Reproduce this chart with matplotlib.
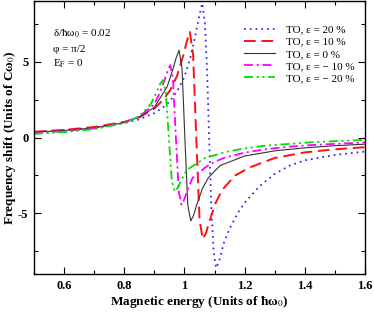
import matplotlib
matplotlib.use("Agg")
import matplotlib.pyplot as plt
from matplotlib.ticker import MultipleLocator, FixedLocator

plt.rcParams['font.family'] = ['Liberation Serif', 'DejaVu Serif']
plt.rcParams['mathtext.fontset'] = 'stix'

# curves: (magnetic energy, frequency shift)
x_p20 = [0.50, 0.60, 0.70, 0.80, 0.85, 0.90, 0.93, 0.95, 0.98, 1.00, 1.02, 1.035, 1.048, 1.059,
         1.068, 1.075, 1.082, 1.089, 1.097, 1.105, 1.115, 1.13, 1.15, 1.18, 1.20, 1.25, 1.30,
         1.35, 1.40, 1.50, 1.60]
y_p20 = [0.36, 0.48, 0.64, 0.95, 1.20, 1.60, 2.00, 2.35, 3.20, 4.00, 5.30, 6.60, 7.90, 8.85,
         7.50, 4.50, 0.00, -4.50, -7.50, -8.60, -8.20, -7.00, -6.00, -4.90, -4.30, -3.20, -2.40,
         -1.85, -1.50, -1.15, -0.93]

x_p10 = [0.50, 0.60, 0.70, 0.80, 0.85, 0.90, 0.93, 0.9535, 0.975, 0.9965, 1.0073, 1.018, 1.0288,
         1.0395, 1.0503, 1.061, 1.0718, 1.0825, 1.104, 1.1255, 1.1685, 1.22, 1.30, 1.40, 1.50, 1.60]
y_p10 = [0.38, 0.50, 0.69, 1.03, 1.33, 1.91, 2.50, 3.15, 4.05, 5.44, 6.30, 6.96, 5.44,
         -0.12, -5.48, -6.70, -6.30, -5.55, -4.30, -3.45, -2.50, -1.95, -1.35, -0.98, -0.78, -0.64]

x_0 = [0.50, 0.60, 0.70, 0.80, 0.85, 0.90, 0.943, 0.962, 0.972, 0.982, 0.992, 1.0015, 1.011,
       1.021, 1.031, 1.0405, 1.06, 1.0795, 1.1185, 1.20, 1.30, 1.40, 1.50, 1.60]
y_0 = [0.35, 0.46, 0.64, 0.99, 1.34, 1.99, 3.37, 4.52, 5.23, 5.75, 4.55, -0.08, -4.45,
       -5.50, -5.10, -4.45, -3.35, -2.65, -1.85, -1.22, -0.88, -0.68, -0.54, -0.44]

x_m10 = [0.50, 0.60, 0.70, 0.80, 0.85, 0.90, 0.916, 0.9345, 0.944, 0.953, 0.962, 0.9715, 0.981,
         0.99, 0.999, 1.0085, 1.027, 1.045, 1.067, 1.10, 1.133, 1.20, 1.267, 1.35, 1.42, 1.50, 1.60]
y_m10 = [0.30, 0.42, 0.60, 0.98, 1.38, 2.20, 2.86, 3.82, 4.40, 4.77, 3.82, 0.00, -3.55,
         -4.44, -4.10, -3.55, -2.66, -2.40, -2.00, -1.60, -1.33, -1.00, -0.78, -0.60, -0.50, -0.42, -0.33]

x_m20 = [0.50, 0.60, 0.70, 0.80, 0.85, 0.888, 0.908, 0.918, 0.928, 0.938, 0.948, 0.958, 0.968,
         0.978, 0.988, 1.008, 1.033, 1.067, 1.133, 1.20, 1.267, 1.35, 1.42, 1.50, 1.60]
y_m20 = [0.24, 0.36, 0.55, 0.95, 1.40, 2.20, 3.00, 3.50, 3.78, 3.00, 0.00, -2.86, -3.57,
         -3.30, -2.86, -2.14, -1.81, -1.37, -0.97, -0.72, -0.54, -0.42, -0.32, -0.24, -0.16]

labels = ["TO, ε = 20 %", "TO, ε = 10 %", "TO, ε = 0 %", "TO, ε = − 10 %", "TO, ε = − 20 %"]

fig = plt.figure(figsize=(3.74, 3.14), dpi=100)
ax = fig.add_axes([34/374, 1 - 274/314, 331/374, 273/314])

ax.plot(x_p20, y_p20, color='#3030ff', lw=1.3, ls=(0, (1, 2.2)), label=labels[0])
ax.plot(x_p10, y_p10, color='#ff1010', lw=1.4, ls=(0, (6, 3)), label=labels[1])
ax.plot(x_0, y_0, color='#333333', lw=0.8, ls='-', label=labels[2])
ax.plot(x_m10, y_m10, color='#ff00ff', lw=1.3, ls=(0, (5, 2, 1.2, 2)), label=labels[3])
ax.plot(x_m20, y_m20, color='#00dd00', lw=1.3, ls=(0, (5, 2, 1.2, 2, 1.2, 2)), label=labels[4])

ax.set_xlim(0.5, 1.6)
ax.set_ylim(-9, 9)
ax.xaxis.set_major_locator(FixedLocator([0.6, 0.8, 1.0, 1.2, 1.4, 1.6]))
ax.set_xticklabels(["0.6", "0.8", "1", "1.2", "1.4", "1.6"])
ax.xaxis.set_minor_locator(MultipleLocator(0.1))
ax.yaxis.set_major_locator(FixedLocator([-5, 0, 5]))
ax.set_yticklabels(["-5", "0", "5"])
ax.yaxis.set_minor_locator(MultipleLocator(2.5))
ax.tick_params(which='both', direction='in', top=True, right=True, labelsize=9, width=0.8)
ax.tick_params(which='major', length=5, pad=4)
ax.tick_params(which='minor', length=3)
for lab in ax.get_xticklabels() + ax.get_yticklabels():
    lab.set_fontweight('bold')
for s in ax.spines.values():
    s.set_linewidth(1.0)

ax.set_xlabel(r"Magnetic energy (Units of ħω$_0$)", fontsize=9.5, fontweight='bold', labelpad=2)
ax.set_ylabel(r"Frequency shift (Units of Cω$_0$)", fontsize=9.5, fontweight='bold', labelpad=0)

ax.text(0.058, 0.87, r"δ/ħω$_0$ = 0.02", transform=ax.transAxes, fontsize=8)
ax.text(0.058, 0.815, "φ = π/2", transform=ax.transAxes, fontsize=8)
ax.text(0.058, 0.76, r"E$_\mathrm{F}$ = 0", transform=ax.transAxes, fontsize=8)

ax.legend(loc='upper right', bbox_to_anchor=(1.0, 0.95), frameon=False, fontsize=8,
          handlelength=2.8, handletextpad=1.0, labelspacing=0.22)

fig.savefig("out.png", dpi=100)
